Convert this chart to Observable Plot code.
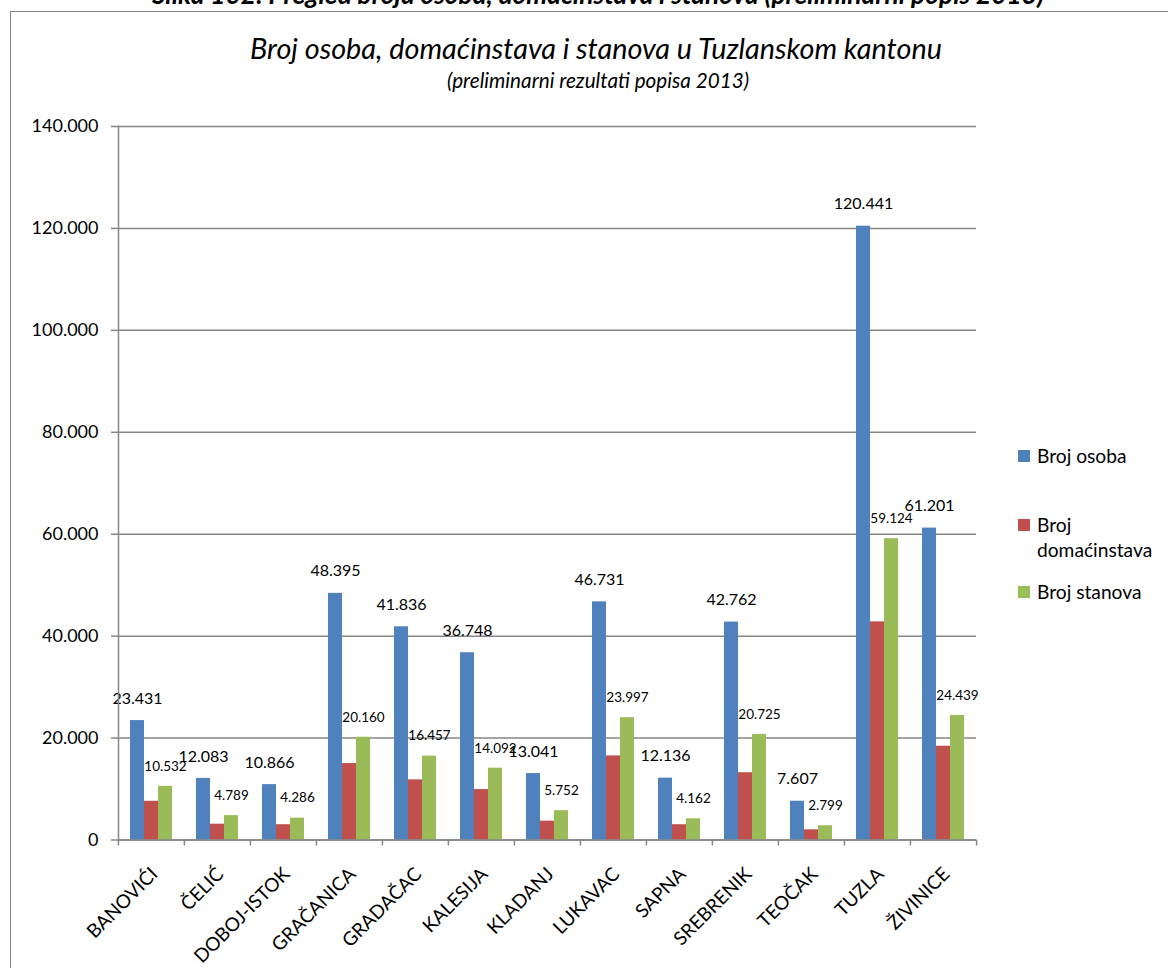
<!DOCTYPE html>
<html>
<head>
<meta charset="utf-8">
<script src="https://cdn.jsdelivr.net/npm/d3@7"></script>
<script src="https://cdn.jsdelivr.net/npm/@observablehq/plot@0.6"></script>
<style>
  html, body { margin: 0; padding: 0; background: #fff; }
  #page { position: relative; width: 1168px; height: 968px; overflow: hidden; font-family: Lato, "Open Sans", sans-serif; color: #000; }
  #border { position: absolute; left: 10px; top: 11px; width: 2000px; height: 2000px; border-left: 1.5px solid #868686; border-top: 1.5px solid #868686; }
  .t { position: absolute; left: 0; width: 1168px; text-align: center; line-height: 1; white-space: nowrap; }
  #caption { top: -19px; left: 14px; font-size: 26.3px; font-weight: bold; font-style: italic; }
  #title { top: 33.5px; left: 12px; font-size: 28.8px; font-style: italic; }
  #subtitle { top: 70px; left: 14px; font-size: 20.7px; font-style: italic; }
  #chart { position: absolute; left: 0; top: 100px; }
  .lg { position: absolute; left: 1018px; font-size: 19.2px; line-height: 25px; }
  .lg .sw { position: absolute; left: 0; top: 7px; width: 12px; height: 12px; }
  .lg .tx { position: absolute; left: 19px; top: 0; width: 140px; white-space: normal; }
</style>
</head>
<body>
<div id="page">
  <div id="border"></div>
  <div class="t" id="caption"></div>
  <div class="t" id="title"></div>
  <div class="t" id="subtitle"></div>
  <div id="chart"></div>
  <div id="legend"></div>
</div>
<script>
// ---- Data ----
const captionText = "Slika 102: Pregled broja osoba, domaćinstava i stanova (preliminarni popis 2013)";
const titleText = "Broj osoba, domaćinstava i stanova u Tuzlanskom kantonu";
const subtitleText = "(preliminarni rezultati popisa 2013)";

const categories = ["BANOVIĆI", "ČELIĆ", "DOBOJ-ISTOK", "GRAČANICA", "GRADAČAC", "KALESIJA", "KLADANJ", "LUKAVAC", "SAPNA", "SREBRENIK", "TEOČAK", "TUZLA", "ŽIVINICE"];
const persons    = [23431, 12083, 10866, 48395, 41836, 36748, 13041, 46731, 12136, 42762, 7607, 120441, 61201];
const households = [7600, 3100, 3000, 15000, 11800, 9900, 3700, 16500, 3000, 13200, 2000, 42800, 18400];
const dwellings  = [10532, 4789, 4286, 20160, 16457, 14092, 5752, 23997, 4162, 20725, 2799, 59124, 24439];
const seriesNames = ["Broj osoba", "Broj domaćinstava", "Broj stanova"];
const seriesColors = ["#4F81BD", "#C0504D", "#9BBB59"];
const yTicks = [0, 20000, 40000, 60000, 80000, 100000, 120000, 140000];

// ---- Build table ----
const seriesValues = [persons, households, dwellings];
const rows = [];
categories.forEach((c, i) => {
  seriesNames.forEach((s, j) => rows.push({cat: c, series: s, value: seriesValues[j][i]}));
});

const fmt = d3.formatLocale({decimal: ",", thousands: ".", grouping: [3], currency: ["", ""]}).format(",d");

document.getElementById("caption").textContent = captionText;
document.getElementById("title").textContent = titleText;
document.getElementById("subtitle").textContent = subtitleText;

// ---- Chart ----
const W = 1168, H = 868;
const mL = 117, mR = 191, mT = 26, mB = 128.5;
const step = (W - mL - mR) / categories.length;
const gray = "#868686";

const chart = Plot.plot({
  width: W,
  height: H,
  marginTop: mT,
  marginBottom: mB,
  marginLeft: mL,
  marginRight: mR,
  style: {fontFamily: "Lato, 'Open Sans', sans-serif", background: "transparent", color: "#000", overflow: "visible"},
  fx: {domain: categories, padding: 0, axis: null, label: null},
  x: {domain: seriesNames, paddingInner: 0, paddingOuter: 0.75, axis: null},
  y: {domain: [0, 140000], axis: null},
  color: {domain: seriesNames, range: seriesColors},
  marks: [
    Plot.gridY({ticks: yTicks, stroke: gray, strokeOpacity: 1, strokeWidth: 1.5}),
    Plot.barY(rows, {fx: "cat", x: "series", y: "value", fill: "series"}),
    Plot.text(rows.filter(d => d.series === seriesNames[0]), {fx: "cat", x: "series", y: "value", text: d => fmt(d.value), dy: -22, fontSize: 16, fill: "#000"}),
    Plot.text(rows.filter(d => d.series === seriesNames[2]), {fx: "cat", x: "series", y: "value", text: d => fmt(d.value), dy: -20, fontSize: 13.5, fill: "#000"}),
    Plot.ruleY([0], {stroke: gray, strokeWidth: 1.5}),
    Plot.frame({anchor: "left", facetAnchor: "left", stroke: gray, strokeWidth: 1.5}),
    Plot.axisY({ticks: yTicks, tickSize: 7, tickFormat: () => "", stroke: gray, strokeWidth: 1.5, label: null}),
    Plot.axisY({ticks: yTicks, tickSize: 0, tickPadding: 20, tickFormat: fmt, fontSize: 18, fill: "#000", label: null}),
    Plot.axisFx({anchor: "bottom", tickSize: 6, tickFormat: () => "", dx: -step / 2, stroke: gray, strokeWidth: 1.5, label: null}),
    Plot.axisFx({anchor: "bottom", ticks: [categories[categories.length - 1]], tickSize: 6, tickFormat: () => "", dx: step / 2, stroke: gray, strokeWidth: 1.5, label: null}),
    Plot.axisFx({anchor: "bottom", tickSize: 0, tickPadding: 31, tickRotate: -45, dx: 3, fontSize: 19, fill: "#000", label: null})
  ]
});
document.getElementById("chart").appendChild(chart);

// ---- Legend ----
const legendTops = [443, 512, 579];
const legend = document.getElementById("legend");
seriesNames.forEach((s, i) => {
  const item = document.createElement("div");
  item.className = "lg";
  item.style.top = legendTops[i] + "px";
  const sw = document.createElement("div");
  sw.className = "sw";
  sw.style.background = seriesColors[i];
  const tx = document.createElement("div");
  tx.className = "tx";
  tx.style.width = i === 1 ? "125px" : "145px";
  tx.textContent = s;
  item.appendChild(sw);
  item.appendChild(tx);
  legend.appendChild(item);
});
</script>
</body>
</html>
